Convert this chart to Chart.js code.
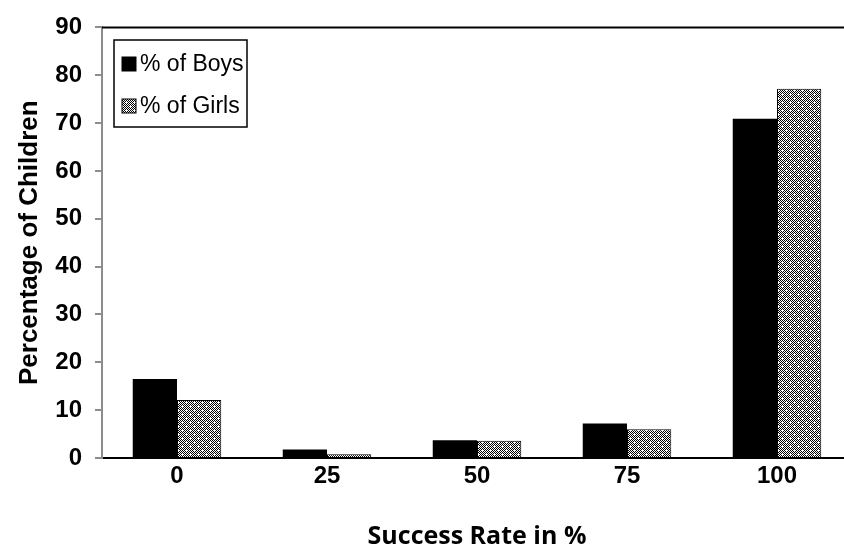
<!DOCTYPE html>
<html>
<head>
<meta charset="utf-8">
<script src="https://cdn.jsdelivr.net/npm/chart.js@4"></script>
<style>
  html, body { margin: 0; padding: 0; background: #fff; overflow: hidden; }
  #wrap { position: relative; width: 852px; height: 547px; }
</style>
</head>
<body>
<div id="wrap"><canvas id="c"></canvas></div>
<script>
const categories = ['0', '25', '50', '75', '100'];
const boys = [16.5, 1.8, 3.7, 7.2, 70.9];
const girls = [12.1, 0.8, 3.6, 6.0, 77.2];
const seriesNames = ['% of Boys', '% of Girls'];
const yTicks = { min: 0, max: 90, step: 10 };
const xTitle = 'Success Rate in %';
const yTitle = 'Percentage of Children';

function makePattern() {
  const p = document.createElement('canvas');
  p.width = 8; p.height = 8;
  const g = p.getContext('2d');
  const img = g.createImageData(8, 8);
  for (let y = 0; y < 8; y++) {
    for (let x = 0; x < 8; x++) {
      let white = (x + y) % 2 === 1;
      if ((x === 2 && y === 2) || (x === 6 && y === 6) || (x === 1 && y === 2) || (x === 2 && y === 1) ||
          (x === 5 && y === 6) || (x === 6 && y === 5)) white = true;
      const i = (y * 8 + x) * 4;
      const v = white ? 255 : 0;
      img.data[i] = v; img.data[i + 1] = v; img.data[i + 2] = v; img.data[i + 3] = 255;
    }
  }
  g.putImageData(img, 0, 0);
  return document.getElementById('c').getContext('2d').createPattern(p, 'repeat');
}
const girlsPattern = makePattern();

const frameAndLegend = {
  id: 'frameAndLegend',
  afterDraw(chart) {
    const ctx = chart.ctx;
    const a = chart.chartArea;
    ctx.save();
    ctx.strokeStyle = '#000';
    ctx.lineWidth = 2;
    ctx.beginPath();
    ctx.moveTo(a.left, a.top);
    ctx.lineTo(chart.width, a.top);
    ctx.stroke();
    const bx = 114, by = 40, bw = 133, bh = 87;
    ctx.fillStyle = '#fff';
    ctx.fillRect(bx, by, bw, bh);
    ctx.lineWidth = 1.5;
    ctx.strokeRect(bx, by, bw, bh);
    const ds = chart.data.datasets;
    const rows = [64, 106];
    ctx.font = '23px "Liberation Sans", Arial, sans-serif';
    ctx.textBaseline = 'middle';
    ctx.textAlign = 'left';
    ds.forEach((d, i) => {
      const cy = rows[i];
      ctx.fillStyle = d.backgroundColor;
      ctx.fillRect(122, cy - 7, 14, 14);
      ctx.lineWidth = 1;
      ctx.strokeStyle = '#000';
      ctx.strokeRect(122, cy - 7, 14, 14);
      ctx.fillStyle = '#000';
      ctx.fillText(d.label, 140, cy + 1);
    });
    ctx.restore();
  }
};

new Chart(document.getElementById('c'), {
  type: 'bar',
  data: {
    labels: categories,
    datasets: [
      { label: seriesNames[0], data: boys, backgroundColor: '#000', borderWidth: 0 },
      { label: seriesNames[1], data: girls, backgroundColor: girlsPattern, borderColor: '#000', borderWidth: 1 }
    ]
  },
  options: {
    responsive: true,
    maintainAspectRatio: false,
    animation: false,
    devicePixelRatio: 1,
    layout: { padding: { top: 22, right: 0, bottom: 0, left: 0 } },
    plugins: { legend: { display: false }, tooltip: { enabled: false } },
    datasets: { bar: { categoryPercentage: 0.59, barPercentage: 1.0 } },
    scales: {
      x: {
        grid: { display: false, drawTicks: false },
        border: { display: true, color: '#000', width: 2 },
        ticks: { color: '#000', padding: 4, font: { family: '"Liberation Sans", Arial, sans-serif', size: 24, weight: 'bold' } },
        title: { display: true, text: xTitle, color: '#000', padding: { top: 0, bottom: -5 },
                 font: { family: '"Open Sans", sans-serif', size: 25, weight: 'bold' } },
        afterFit(s) { s.height = 89; }
      },
      y: {
        min: yTicks.min, max: yTicks.max,
        grid: { drawOnChartArea: false, drawTicks: true, tickLength: 7, color: '#8c8c8c', lineWidth: 2 },
        border: { display: true, color: '#8c8c8c', width: 2 },
        ticks: { stepSize: yTicks.step, color: '#000', padding: 13,
                 font: { family: '"Liberation Sans", Arial, sans-serif', size: 24, weight: 'bold' } },
        title: { display: true, text: yTitle, color: '#000', padding: { top: 14, bottom: 0 },
                 font: { family: '"Liberation Sans", Arial, sans-serif', size: 26, weight: 'bold' } },
        afterFit(s) { s.width = 102; }
      }
    }
  },
  plugins: [frameAndLegend]
});
</script>
</body>
</html>
